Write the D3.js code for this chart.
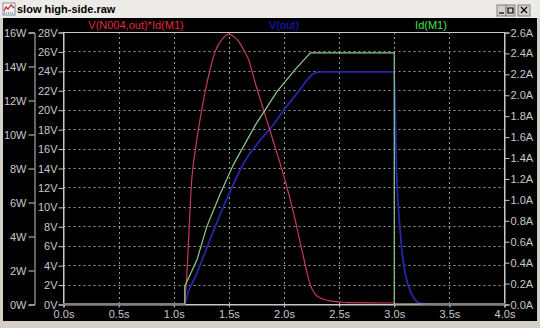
<!DOCTYPE html>
<html>
<head>
<meta charset="utf-8">
<script src="https://cdn.jsdelivr.net/npm/d3@7"></script>
<style>
  body { margin: 0; background: #d4d0c8; }
  svg { display: block; }
</style>
</head>
<body>
<div class="plot"></div>
<script>
// tick labels
const timeTicks = [0, 0.5, 1, 1.5, 2, 2.5, 3, 3.5, 4];
const voltTicks = d3.range(0, 29, 2);
const wattTicks = d3.range(0, 17, 2);
const ampTicks = [0, 0.2, 0.4, 0.6, 0.8, 1.0, 1.2, 1.4, 1.6, 1.8, 2.0, 2.2, 2.4, 2.6];

// V(N004,out)*Id(M1) in W : [time s, W]
const powerSeries = [
  [0, 0], [1.1, 0], [1.105, 0.6], [1.112, 1.0], [1.125, 2.5], [1.14, 4.5],
  [1.16, 7.0], [1.175, 8.1], [1.19, 8.8], [1.21, 9.7], [1.24, 10.9],
  [1.285, 12.5], [1.33, 13.8], [1.376, 14.86], [1.43, 15.5], [1.497, 15.88],
  [1.55, 15.7], [1.588, 15.45], [1.63, 15.0], [1.679, 14.37], [1.739, 13.0],
  [1.83, 11.1], [1.906, 9.5], [1.982, 7.9], [2.05, 6.3], [2.11, 4.7],
  [2.175, 2.8], [2.24, 1.1], [2.28, 0.6], [2.31, 0.43], [2.4, 0.2],
  [2.51, 0.12], [2.57, 0.08], [3.0, 0.06], [3.0, 0], [4.0, 0]
];
// V(out) in V
const voutSeries = [
  [0, 0], [1.1, 0], [1.13, 1.2], [1.2, 2.9], [1.27, 4.9], [1.376, 7.96],
  [1.5, 11.3], [1.65, 14.8], [1.78, 16.8], [1.9, 18.4], [2.02, 20.3],
  [2.13, 21.85], [2.22, 23.2], [2.28, 23.8], [2.35, 23.9], [3.0, 23.9],
  [3.02, 14], [3.05, 8], [3.08, 4.5], [3.13, 1.8], [3.18, 0.6], [3.24, 0.05],
  [3.3, 0], [4.0, 0]
];
// Id(M1) in A
const idSeries = [
  [0, 0], [1.1, 0], [1.1, 0.17], [1.21, 0.42], [1.30, 0.74], [1.42, 1.05],
  [1.54, 1.33], [1.74, 1.71], [1.936, 2.03], [2.1, 2.24], [2.24, 2.4],
  [3.0, 2.4], [3.0, 0], [4.0, 0]
];

const W = 540, H = 328;
const margin = {top: 32, left: 63.5, right: 35.5, bottom: 24};

const svg = d3.select(".plot").append("svg")
  .attr("width", W)
  .attr("height", H);

// window chrome
svg.append("rect").attr("x", 0).attr("y", 0).attr("width", W).attr("height", 18).attr("fill", "#ecebe8");
svg.append("rect").attr("x", 3).attr("y", 18).attr("width", 534).attr("height", 303).attr("fill", "#000");

const icon = svg.append("g").attr("transform", "translate(3,3)");
icon.append("rect").attr("width", 12).attr("height", 12).attr("fill", "#f4f4f4").attr("stroke", "#8090a8");
icon.append("path").attr("d", "M1,8 L3,4 L5,6 L8,2 L11,5").attr("fill", "none").attr("stroke", "#d02020").attr("stroke-width", 1.2);
icon.append("path").attr("d", "M1,10H11").attr("stroke", "#2040a0").attr("stroke-dasharray", "1,1");

svg.append("text").attr("x", 17).attr("y", 13)
  .attr("font-family", "Liberation Sans, Arial, sans-serif")
  .attr("font-weight", "bold").attr("font-size", 11)
  .attr("fill", "#000").text("slow high-side.raw");

const buttons = [{x: 497, w: 9, g: "M499,13H504"}, {x: 506, w: 9, g: "M508,8h5v5h-5z"}, {x: 518, w: 12, g: "M521,7l6,6M527,7l-6,6"}];
buttons.forEach(b => {
  svg.append("rect").attr("x", b.x).attr("y", 5).attr("width", b.w).attr("height", 11)
    .attr("fill", "#d4d0c8").attr("stroke", "#808080");
  svg.append("path").attr("d", b.g).attr("fill", "none").attr("stroke", "#000").attr("stroke-width", 1.2);
});

// scales
const x = d3.scaleLinear().domain([0, 4]).range([margin.left, W - margin.right]);
const yV = d3.scaleLinear().domain([0, 28]).range([H - margin.bottom, margin.top]);
const yW = d3.scaleLinear().domain([0, 16]).range([H - margin.bottom, margin.top]);
const yA = d3.scaleLinear().domain([0, 2.6]).range([H - margin.bottom, margin.top]);

const axisColor = "#c8c8c8";
const font = "Liberation Sans, Arial, sans-serif";

// grid
svg.append("g").selectAll("line")
  .data(voltTicks.slice(1, -1))
  .join("line")
  .attr("x1", x(0)).attr("x2", x(4))
  .attr("y1", d => Math.round(yV(d)) + 0.5).attr("y2", d => Math.round(yV(d)) + 0.5)
  .attr("stroke", "#9a9a9a").attr("stroke-dasharray", "2,3");
svg.append("g").selectAll("line")
  .data(timeTicks.slice(1, -1))
  .join("line")
  .attr("x1", d => Math.round(x(d)) + 0.5).attr("x2", d => Math.round(x(d)) + 0.5)
  .attr("y1", yV(28)).attr("y2", yV(0))
  .attr("stroke", "#9a9a9a").attr("stroke-dasharray", "2,3");

// plot frame
svg.append("rect")
  .attr("x", x(0)).attr("y", yV(28) + 0.5)
  .attr("width", x(4) - x(0)).attr("height", yV(0) - yV(28))
  .attr("fill", "none").attr("stroke", axisColor);

function styleAxis(g) {
  g.selectAll("path, line").attr("stroke", axisColor);
  g.selectAll("text").attr("fill", axisColor).attr("font-family", font).attr("font-size", 11);
}

svg.append("g")
  .attr("transform", `translate(0,${yV(0) + 0.5})`)
  .call(d3.axisBottom(x).tickValues(timeTicks).tickFormat(d => d3.format(".1f")(d) + "s").tickSize(3).tickPadding(3))
  .call(styleAxis);

svg.append("g")
  .attr("transform", `translate(${x(0)},0.5)`)
  .call(d3.axisLeft(yV).tickValues(voltTicks).tickFormat(d => d + "V").tickSize(5).tickPadding(1))
  .call(styleAxis);

svg.append("g")
  .attr("transform", "translate(34.5,0.5)")
  .call(d3.axisLeft(yW).tickValues(wattTicks).tickFormat(d => d + "W").tickSize(6).tickPadding(2))
  .call(styleAxis);

svg.append("g")
  .attr("transform", `translate(${x(4)},0.5)`)
  .call(d3.axisRight(yA).tickValues(ampTicks).tickFormat(d => d3.format(".1f")(d) + "A").tickSize(5).tickPadding(1))
  .call(styleAxis);

// traces
const lineW = d3.line().x(d => x(d[0])).y(d => yW(d[1])).curve(d3.curveMonotoneX);
const lineV = d3.line().x(d => x(d[0])).y(d => yV(d[1])).curve(d3.curveMonotoneX);
const lineA = d3.line().x(d => x(d[0])).y(d => yA(d[1])).curve(d3.curveLinear);

svg.append("path").datum(voutSeries).attr("d", lineV)
  .attr("fill", "none").attr("stroke", "#2626a8").attr("stroke-width", 1.8);
svg.append("path").datum(powerSeries).attr("d", lineW)
  .attr("fill", "none").attr("stroke", "#c83a55").attr("stroke-width", 1.2);
svg.append("path").datum(idSeries).attr("d", lineA)
  .attr("fill", "none").attr("stroke", "#8ccc8c").attr("stroke-width", 1.2);

// legend
const legend = [
  {label: "V(N004,out)*Id(M1)", x: 136, color: "#e02a35"},
  {label: "V(out)", x: 284, color: "#1a1ad0"},
  {label: "Id(M1)", x: 431, color: "#44e044"}
];
svg.append("g").selectAll("text")
  .data(legend)
  .join("text")
  .attr("x", d => d.x).attr("y", 29)
  .attr("text-anchor", "middle")
  .attr("font-family", font).attr("font-size", 11)
  .attr("fill", d => d.color)
  .text(d => d.label);
</script>
</body>
</html>
